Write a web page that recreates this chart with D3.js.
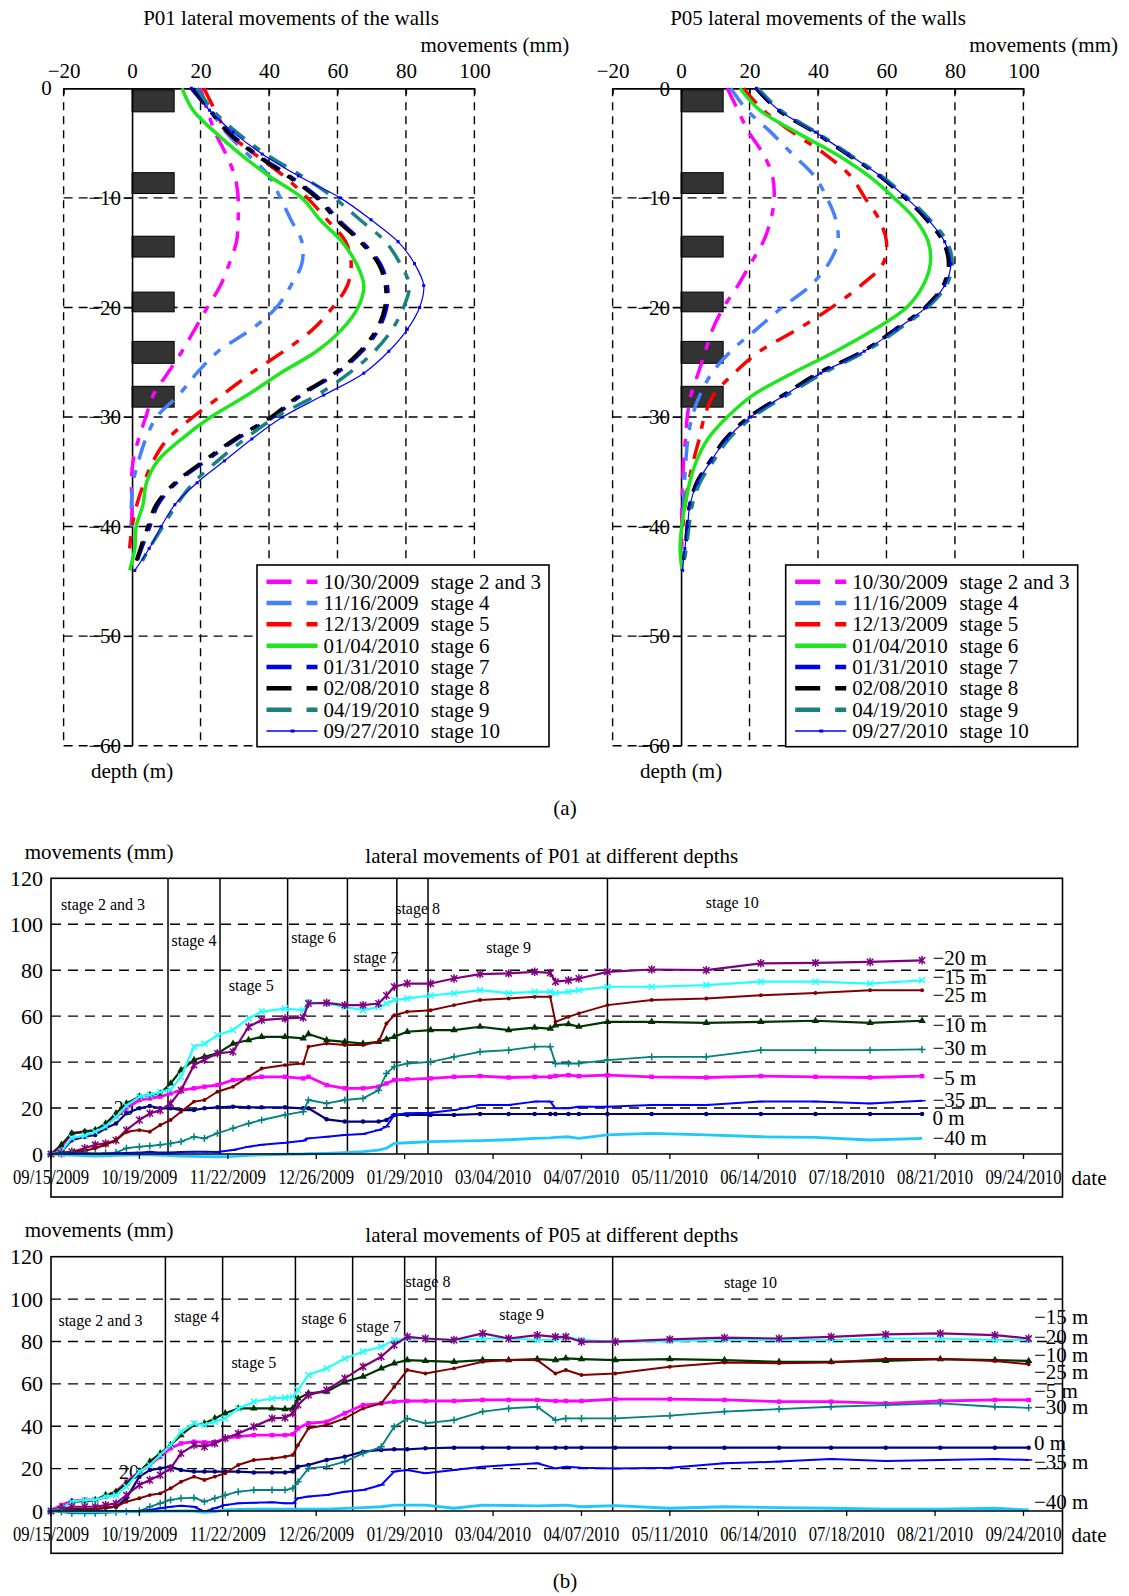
<!DOCTYPE html>
<html lang="en">
<head>
<meta charset="UTF-8">
<title>Lateral movements of the walls P01 / P05</title>
<script src="https://d3js.org/d3.v7.min.js"></script>
<style>
  body { margin: 0; background: #fff; }
  svg { display: block; font-family: "Liberation Serif", "Times New Roman", serif; }
  text { fill: #000; }
</style>
</head>
<body>
<svg id="fig" width="1129" height="1596"></svg>
<script>
// ---------------- data: (a) wall profiles ----------------
const profileDepths = [0,-2,-4,-6,-8,-10,-12,-14,-16,-18,-20,-22,-24,-26,-28,-30,-32,-34,-36,-38,-40,-42,-44];
const mmTicks = [-20, 0, 20, 40, 60, 80, 100];
const depthTicks = [0, -10, -20, -30, -40, -50, -60];
const strutTop = [-0.15, -7.7, -13.5, -18.6, -23.1, -27.2];
const strutBottom = [-2.15, -9.6, -15.4, -20.4, -25.1, -29.1];
const strutWidthMm = 12.3;

const legendDates = ["10/30/2009", "11/16/2009", "12/13/2009", "01/04/2010", "01/31/2010", "02/08/2010", "04/19/2010", "09/27/2010"];
const legendStages = ["stage 2 and 3", "stage 4", "stage 5", "stage 6", "stage 7", "stage 8", "stage 9", "stage 10"];

// P01 (mm at each depth)
const p01Stage23 = [20,22,24.2,27.4,30,31,31,30.5,28.4,25.8,22,18.3,14.6,10.4,6.2,4,1.9,0.3,-0.2,0,-0.2,null,null];
const p01Stage4  = [19,23,27.4,33.7,40,43.3,46.4,49.6,49.6,46.4,42.2,34.8,25.2,18.9,13.6,7.2,4,1.9,0.3,-0.2,-0.2,null,null];
const p01Stage5  = [21,24.2,27.9,35.8,44.3,51.2,57,62.4,64,62.9,58.6,52.8,44.3,34.8,26.3,17.8,10.4,6.2,3.5,1.4,0,-0.7,null];
const p01Stage6  = [14.6,17.8,24.2,31.6,40,49.6,54.9,61.3,65.5,67.7,66,61.3,53.9,43.3,33.7,23,14.5,7.5,4.2,3.2,1.2,0.8,-0.7];
const p01Stage7  = [17.8,23,28.4,36.3,46,54.5,60.3,67.2,72.5,74.6,74.4,72,67.2,59.8,49.5,41.2,30.6,21.6,13,7.6,5.2,2.8,0.5];
const p01Stage8  = [17.3,22.6,27.9,35.8,45.4,53.9,59.7,66.6,71.9,74,73.8,71.4,66.6,59.2,49,40.6,30,21,12.5,7,4.6,2.4,0.3];
const p01Stage9  = [18.9,23.6,30.5,39,49.6,59,66.6,74,78.3,81,79.3,76,70.8,63.4,54,42,33,25,18,13,9,5,1.5];
const p01Stage10 = [17.3,22.6,29.5,38,48.6,60.8,69.8,77.7,82.5,85.2,84,80.4,75,67.7,56,44,35,27,19,12.5,8.5,5,0.8];

// P05
const p05Stage23 = [13.5,16.6,19.8,24,26.7,27.2,26.2,24,20.3,16.6,12.4,9.2,7.1,5,2.9,1.8,1.3,0.7,0.5,0.2,0.2,0.2,null];
const p05Stage4  = [14.5,19.3,26.2,32.5,38.9,42.6,45.2,45.8,43.1,37.8,29.5,22,14.5,9,5.5,3.2,2,1.4,1,0.7,0.3,null,null];
const p05Stage5  = [18.2,24,32.5,42,49.5,53.7,57.9,60,59,52.5,44,34,23,15.5,9.5,6.8,5.3,3.6,2.2,1.2,0.5,null,null];
const p05Stage6  = [17.2,23,33.6,45.2,54.8,62.2,68.5,72.2,72.8,70.7,65.9,56.5,45.2,32.5,21,13.5,7.8,4.5,2.5,1.2,0.2,-0.3,0.3];
const p05Stage7  = [22,28.5,39,48.6,58,65.6,72,76.8,78.5,76.8,71.5,63,53,40.5,30,20,13,8.6,4.6,2.6,1.8,1.2,0.3];
const p05Stage8  = [21.9,28.3,38.9,48.4,57.9,65.4,71.7,76.5,78.1,76.5,71.2,62.5,53.2,40,29.8,19.8,12.9,8.5,4.5,2.5,1.8,1.3,0.2];
const p05Stage9  = [22.5,29,39.5,49,58.5,66.2,72.7,77.7,79.2,77.5,72,63.5,54,41.5,31,21,14,9.5,5.5,3.3,2.3,1.5,0.5];
const p05Stage10 = [22,28.6,39.2,48.8,58.2,65.8,72.2,77,78.8,77,71.6,62.8,53.5,40.8,30.3,20.3,13.3,8.8,4.8,2.6,1.9,1.1,0.4];

// ---------------- data: (b) time histories ----------------
const dateTicks = ["09/15/2009","10/19/2009","11/22/2009","12/26/2009","01/29/2010","03/04/2010",
                   "04/07/2010","05/11/2010","06/14/2010","07/18/2010","08/21/2010","09/24/2010"];
const valueTicks = [0, 20, 40, 60, 80, 100, 120];
const depthLabels = ["0 m", "−5 m", "−10 m", "−15 m", "−20 m", "−25 m", "−30 m", "−35 m", "−40 m"];

const p01Dates = ["09/15/2009","09/19/2009","09/23/2009","09/28/2009","10/02/2009","10/06/2009","10/10/2009","10/14/2009","10/19/2009","10/23/2009",
  "10/27/2009","10/31/2009","11/04/2009","11/09/2009","11/13/2009","11/18/2009","11/24/2009","11/30/2009","12/05/2009","12/14/2009",
  "12/21/2009","12/23/2009","12/30/2009","01/06/2010","01/13/2010","01/19/2010","01/22/2010","01/25/2010","01/30/2010","02/08/2010",
  "02/17/2010","02/27/2010","03/10/2010","03/20/2010","03/26/2010","03/28/2010","04/02/2010",
  "04/06/2010","04/17/2010","05/04/2010","05/25/2010","06/15/2010","07/06/2010","07/27/2010","08/16/2010"];
const p01D0  = [0,1,6,7.5,8.3,11.2,13.3,17.7,19.9,20.9, 19.9,19.9,19.1,19.1,19.9,20.3,20.6,20.3,20.3,20.3, 19.9,19.9,15.1,14.1,14.1,14.1,14.8,17,17,17, 17,17.4,17.4,17.4,17.4,17.4,17.4, 17.4,17.4,17.4,17.4,17.4,17.4,17.4,17.4];
const p01D5  = [0,3.2,9,9.7,10.4,12.6,16.2,19.9,23.5,24.2, 25,26.4,27.8,28.6,29.3,30,32.2,32.9,33.6,33.6, 32.9,33.6,30,28.6,28.6,29.3,30.7,32.2,32.5,32.9, 33.6,33.9,33.3,33.6,33.6,34,34.3, 33.9,34.3,33.6,33.3,33.9,33.6,33.3,33.9];
const p01D10 = [0,4,9,9.7,10.4,13.3,17.7,22,25,25.7, 26.4,30.7,36.5,40.9,42.3,43.8,48,49.6,51,51, 50.3,52.2,49.6,48.8,48.1,48.8,49.9,51,53.2,53.9, 53.9,55.4,53.9,55,54.6,56,56.5, 55.4,57.5,57.5,57.1,57.5,58,57.1,58];
const p01D15 = [0,1,7,8,9.7,12,16,21,25,25.7, 27,28,33.6,46.7,48,51.7,54,59,62,63.3, 62.6,66,65.5,64,62.6,64,65.5,67,67.7,69, 70,71.3,70,70.6,70.6,70,70.6, 71.3,72.8,72.8,73.5,75,75,74.2,75.6];
const p01D20 = [0,0.3,1,2.5,4,4.6,6,10.4,14.8,17.7, 19,22,27.8,38.7,41,43.8,44.5,55.4,58.3,59, 59.4,65.5,65.8,64.8,64.8,65.5,69,72.8,74.2,74.2, 76.4,78.3,78.6,79.3,78.8,75,75.6, 76.4,79.3,80.3,80,83,83.2,83.6,84.3];
const p01D25 = [0,0.6,1,1.4,2.5,4,6,9.7,10.4,9.7, 12.6,14.8,18.4,22.8,23.5,27.1,29.3,33.6,37.2,38.7, 39.4,46.7,48.1,47.4,47.4,48.8,56.8,60.4,61.9,62.6, 64.8,67,67.7,68.4,68.4,57.5,59.7, 61.2,64.8,67,67.7,69.1,70.1,71.3,71.3];
const p01D30 = [0,0.3,0.6,0.5,0.3,0.5,0.6,2.5,3.2,3.5, 4,4.6,5.4,7.5,6.8,9,11.2,13.3,14.8,17, 18.4,23.5,22,23.5,24.2,27.8,35,38,39.4,40.1, 42.3,44.5,45.2,46.7,46.7,39.4,39.4, 39.4,40.9,42.3,42.3,45.2,45.2,45.2,45.5];
const p01D35 = [0,0.2,0.3,0.2,0,0.1,0.3,0.4,0.6,1, 0.6,0.6,0.9,1,1,0.9,1.7,3.2,4,4.9, 5.8,6.8,7.5,8.3,8.7,10.4,11.9,17,17.7,18, 19.1,21.3,21.3,22.8,22.8,19.9,19.9, 20.6,20.6,21.3,21.3,22.8,22.8,22,23.2];
const p01D40 = [0,-0.3,-0.5,-0.7,-0.9,-0.8,-0.6,-0.5,-0.4,-0.4, -0.5,-0.7,-0.9,-1,-1.1,-1.2,-1,-0.6,-0.4,-0.1, 0,0.1,0.3,0.6,1,1.7,2.5,4.6,4.9,5.4, 5.6,5.8,6.2,6.8,7,7.2,7.5, 6.8,8.3,9,8.3,7.5,7.2,6.1,6.8];

const p05Dates = ["09/15/2009","09/19/2009","09/23/2009","09/28/2009","10/02/2009","10/06/2009","10/10/2009","10/14/2009","10/19/2009","10/23/2009",
  "10/27/2009","10/31/2009","11/04/2009","11/09/2009","11/13/2009","11/17/2009","11/21/2009","11/26/2009","12/02/2009","12/09/2009",
  "12/14/2009","12/17/2009","12/19/2009","12/23/2009","12/30/2009","01/06/2010","01/13/2010","01/20/2010","01/25/2010","01/30/2010",
  "02/06/2010","02/17/2010","02/28/2010","03/10/2010","03/21/2010","03/28/2010","04/01/2010",
  "04/07/2010","04/20/2010","05/11/2010","06/01/2010","06/22/2010","07/12/2010","08/02/2010","08/23/2010","09/13/2010","09/26/2010"];
const p05D0  = [0,0.5,0.9,0.9,0.9,1.5,2,6,16.2,19.3, 20.1,20.9,19.3,18.6,18.6,18.6,18.6,18.6,18.2,18.2, 18.2,18.6,20.9,21.7,24.1,25.6,28,28.8,29.1,29.1, 29.6,29.9,29.9,29.9,29.9,29.9,29.9, 29.9,29.9,29.9,29.9,29.9,29.9,29.9,29.9,29.9,29.9];
const p05D5  = [0,2.8,4.7,5.2,5.2,6.8,9.1,13.8,18.6,21.7, 25.6,29.6,31.9,32.7,32.4,32.4,34.3,35.1,35.8,35.8, 35.8,36.2,39,41.4,42.1,46.1,50,50.8,51.6,51.9, 51.9,51.9,52.4,52.4,52.4,51.9,51.9, 51.9,52.8,52.8,52.4,51.6,51.6,50.8,51.9,52.4,52.4];
const p05D10 = [0,1.6,4.4,4.7,5.2,7.5,9.1,13,18.6,23.3, 27.2,31.1,35.8,40.6,41.4,43.7,46.1,48.4,48.4,48.4, 48.1,48.4,53.1,55.5,56.3,61,63.4,67.3,69.7,71.2, 70.8,70.4,71.2,71.2,71.7,71.2,72, 71.7,71.2,71.7,71.2,70.4,70.4,70.8,71.7,71.2,70.8];
const p05D15 = [0,1.3,4.4,5.2,5.2,6.8,7.5,11.5,18.6,21.7, 26.4,31.1,37.4,41.4,40.6,42.1,43.7,48.4,51.6,53.1, 53.5,53.9,57.1,64.2,67.3,72,75.2,77.5,80.7,81.4, 81.4,80.7,81.4,81.4,80.7,80.7,82.2, 80.7,79.9,80.2,80.7,80.7,80.7,81.4,81.4,80.7,80.7];
const p05D20 = [0,0.9,2,2,2,2.8,3.6,7.5,12.3,14.6, 17,20.1,27.2,31.1,30.3,31.9,34.3,36.6,39.8,43.7, 44,46.1,50,54.7,57.1,62.6,68.1,72.8,78.3,82.2, 81.4,80.7,83.8,81.4,83,82.2,82.2, 79.9,79.9,81,81.8,81.4,82.2,83.3,83.8,83,81.4];
const p05D25 = [0,0.2,0.5,0.7,0.9,1.5,2,4.4,6,7.5, 8.3,10.7,13.8,16.2,14.6,16.2,17.8,21.7,24.1,24.8, 25.6,26.4,31.1,39,40.6,43.7,48.4,50.8,58.6,66.5, 64.9,67.3,70.4,71.2,71.2,64.9,66.5, 64.2,64.9,68.1,70.1,69.7,70.1,71.7,71.7,70.8,69.2];
const p05D30 = [0,-0.5,-1.1,-1.1,-1.1,-0.8,-0.6,-0.3,0,2, 3.6,5.2,6,6.3,4.4,6,7.5,9.1,9.9,9.9, 9.9,10.7,13.8,20.1,20.9,23.3,27.2,30.3,39.8,43.7, 41.4,42.9,46.9,48.4,49.2,42.9,43.7, 43.7,43.7,45,46.9,48.1,49.2,50,50.8,49.2,48.7];
const p05D35 = [0,0,0,0,0,0,0,0,0,0.5, 1.3,2,2.5,2,-0.3,1.3,2.8,3.6,3.9,4.1, 3.6,3.6,6,6.8,7.5,9.1,9.9,12.3,18.6,19.3, 17.8,19.3,20.9,21.7,22.5,20.1,20.9, 20.4,20.1,20.4,22.5,23.3,24.5,23.6,24.1,24.5,24.1];
const p05D40 = [0,-0.1,-0.2,-0.3,-0.3,-0.3,-0.3,-0.3,-0.3,-0.2, -0.1,0,0,0,-0.6,-0.3,0.5,0.7,0.9,0.9, 0.9,0.9,0.9,0.9,0.9,1.2,1.6,2,2.8,2.8, 2.8,1.3,2.8,2.6,2.4,2.6,2.8, 2,2.5,1.3,2,1.6,1.3,0.9,0.9,1.3,0.5];

const p01StageLines = ["10/30/2009","11/19/2009","12/15/2009","01/07/2010","01/26/2010","02/07/2010","04/17/2010"];
const p05StageLines = ["10/29/2009","11/20/2009","12/18/2009","01/09/2010","01/29/2010","02/10/2010","04/19/2010"];
const p01StageLabels = [["stage 2 and 3","10/05/2009",108.4],["stage 4","11/09/2009",93.1],["stage 5","12/01/2009",73.3],["stage 6","12/25/2009",94.3],
  ["stage 7","01/18/2010",85.4],["stage 8","02/03/2010",106.9],["stage 9","03/10/2010",90],["stage 10","06/04/2010",109.4]];
const p05StageLabels = [["stage 2 and 3","10/04/2009",89.7],["stage 4","11/10/2009",92],["stage 5","12/02/2009",70],["stage 6","12/29/2009",90.9],
  ["stage 7","01/19/2010",87],["stage 8","02/07/2010",108.5],["stage 9","03/15/2010",92.5],["stage 10","06/11/2010",107.9]];
// where the depth names sit on the right (value units)
const p01LabelValues = [15.5, 33.1, 56.2, 77.2, 85.2, 69.2, 46.1, 23.5, 6.8];
const p05LabelValues = [32.2, 56.7, 73.6, 91.7, 82, 65.4, 48.9, 23.2, 4.4];

// ---------------- styles ----------------
const stageStyles = [
  { color: "#ff00ff", dash: true,  width: 3.5 },
  { color: "#4480ff", dash: true,  width: 3.5 },
  { color: "#ff0000", dash: true,  width: 3.5 },
  { color: "#1ee61e", dash: false, width: 3.5 },
  { color: "#0000f0", dash: true,  width: 3.5 },
  { color: "#000000", dash: true,  width: 3.5 },
  { color: "#1a8080", dash: true,  width: 3.5 },
  { color: "#0000ff", dash: false, width: 1.2, marker: true }
];
const seriesStyles = [
  { color: "#000080", width: 2.2, marker: "circle" },
  { color: "#ff00ff", width: 2.8, marker: "square" },
  { color: "#003300", width: 2.2, marker: "triangle" },
  { color: "#22ffff", width: 2.2, marker: "x" },
  { color: "#800080", width: 2.2, marker: "star" },
  { color: "#800000", width: 2,   marker: "dot" },
  { color: "#008080", width: 1.8, marker: "plus" },
  { color: "#0000ff", width: 2,   marker: "dash" },
  { color: "#1ec8ff", width: 2.8, marker: null }
];
const markerPaths = {
  circle: d3.symbol(d3.symbolCircle, 16)(),
  square: d3.symbol(d3.symbolSquare, 20)(),
  triangle: d3.symbol(d3.symbolTriangle, 24)(),
  dot: d3.symbol(d3.symbolCircle, 12)(),
  x: "M-3,-3L3,3M-3,3L3,-3",
  star: "M-3.2,-3.2L3.2,3.2M-3.2,3.2L3.2,-3.2M0,-4.2L0,4.2",
  plus: "M-3.5,0L3.5,0M0,-3.5L0,3.5",
  dash: "M-3.5,0L3.5,0"
};
const filledMarkers = ["circle", "square", "triangle", "dot"];

const svg = d3.select("#fig");
const parseDate = d3.timeParse("%m/%d/%Y");

function addText(g, x, y, str, size, anchor) {
  return g.append("text").attr("x", x).attr("y", y).attr("font-size", size)
    .attr("text-anchor", anchor || "start").text(str);
}

// ---------------- (a) profile panels ----------------
function drawProfile(cfg) {
  const g = svg.append("g");
  const x = d3.scaleLinear().domain([-20, 100]).range(cfg.xRange);
  const y = d3.scaleLinear().domain([0, -60]).range([88.3, 745.7]);

  // dashed grid
  g.selectAll(".vg").data(mmTicks.filter(v => v !== 0)).join("line")
    .attr("x1", d => x(d)).attr("x2", d => x(d)).attr("y1", y(0)).attr("y2", y(-60))
    .attr("stroke", "#000").attr("stroke-width", 1.4).attr("stroke-dasharray", "8,6");
  g.selectAll(".hg").data(depthTicks.filter(v => v !== 0)).join("line")
    .attr("x1", x(-20)).attr("x2", x(100)).attr("y1", d => y(d)).attr("y2", d => y(d))
    .attr("stroke", "#000").attr("stroke-width", 1.4).attr("stroke-dasharray", "9,6");

  // struts
  g.selectAll(".strut").data(strutTop).join("rect")
    .attr("x", x(0)).attr("width", x(strutWidthMm) - x(0))
    .attr("y", d => y(d)).attr("height", (d, i) => y(strutBottom[i]) - y(d))
    .attr("fill", "#333").attr("stroke", "#000").attr("stroke-width", 1);

  // top axis, ticks pointing down into the plot
  const top = g.append("g").attr("transform", `translate(0,${y(0)})`)
    .call(d3.axisTop(x).tickValues(mmTicks).tickSizeInner(-6).tickSizeOuter(0).tickPadding(10));
  top.attr("font-family", null);
  top.select(".domain").attr("stroke-width", 1.8);
  top.selectAll(".tick line").attr("stroke-width", 1.4);
  top.selectAll("text").attr("font-size", 21);

  // depth axis at x = 0
  const ticks = cfg.zeroOnAxis ? depthTicks : depthTicks.filter(v => v !== 0);
  const left = g.append("g").attr("transform", `translate(${x(0)},0)`)
    .call(d3.axisLeft(y).tickValues(ticks).tickSizeInner(8).tickSizeOuter(0).tickPadding(3));
  left.attr("font-family", null);
  left.select(".domain").attr("stroke-width", 1.6);
  left.selectAll("text").attr("font-size", 21);
  if (!cfg.zeroOnAxis) addText(g, 46.4, y(0) + 7, "0", 21, "middle");

  // curves
  const line = d3.line()
    .defined(d => d[1] !== null)
    .x(d => x(d[1])).y(d => y(d[0]))
    .curve(d3.curveCatmullRom.alpha(0.5));
  cfg.profiles.forEach((vals, i) => {
    const st = stageStyles[i];
    const pts = profileDepths.map((dep, j) => [dep, vals[j]]);
    g.append("path").attr("d", line(pts)).attr("fill", "none")
      .attr("stroke", st.color).attr("stroke-width", st.width)
      .attr("stroke-dasharray", st.dash ? "20,11,8,11" : null);
    if (st.marker) {
      g.selectAll(null).data(pts.filter(p => p[1] !== null)).join("rect")
        .attr("x", d => x(d[1]) - 1.5).attr("y", d => y(d[0]) - 1.5)
        .attr("width", 3).attr("height", 3).attr("fill", st.color);
    }
  });

  // legend
  const lx = cfg.legendX, ly = 565, rowH = 21.33;
  g.append("rect").attr("x", lx).attr("y", ly).attr("width", 292).attr("height", 181.7)
    .attr("fill", "#fff").attr("stroke", "#000").attr("stroke-width", 1.6);
  legendDates.forEach((dt, i) => {
    const cy = ly + 16.7 + i * rowH, st = stageStyles[i];
    g.append("line").attr("x1", lx + 9.5).attr("x2", lx + 60.5).attr("y1", cy).attr("y2", cy)
      .attr("stroke", st.color).attr("stroke-width", st.marker ? 1.3 : 4.5)
      .attr("stroke-dasharray", st.dash ? "25,15,11" : null);
    if (st.marker) g.append("rect").attr("x", lx + 33.5).attr("y", cy - 1.5).attr("width", 4).attr("height", 3).attr("fill", st.color);
    addText(g, lx + 66.5, cy + 7, dt, 21);
    addText(g, lx + 173.7, cy + 7, legendStages[i], 21);
  });

  // titles
  addText(g, cfg.titleX, 25, cfg.title, 21, "middle");
  addText(g, cfg.unitsX, 52, "movements (mm)", 21);
  addText(g, x(0), 778, "depth (m)", 21, "middle");
}

drawProfile({
  xRange: [63.6, 474.4], legendX: 257, titleX: 291, unitsX: 420.5, zeroOnAxis: false,
  title: "P01 lateral movements of the walls",
  profiles: [p01Stage23, p01Stage4, p01Stage5, p01Stage6, p01Stage7, p01Stage8, p01Stage9, p01Stage10]
});
drawProfile({
  xRange: [612.6, 1023.4], legendX: 785.7, titleX: 818, unitsX: 969.3, zeroOnAxis: true,
  title: "P05 lateral movements of the walls",
  profiles: [p05Stage23, p05Stage4, p05Stage5, p05Stage6, p05Stage7, p05Stage8, p05Stage9, p05Stage10]
});
addText(svg, 565, 815, "(a)", 21, "middle");

// ---------------- (b) time histories ----------------
function drawTimeChart(c) {
  const g = svg.append("g");
  const x = d3.scaleTime().domain([parseDate("09/15/2009"), parseDate("10/09/2010")]).range([51, 1062.5]);
  const y = d3.scaleLinear().domain([0, 120]).range([c.yZero, c.yTop]);

  g.selectAll(".hg").data(valueTicks.slice(1, -1)).join("line")
    .attr("x1", x.range()[0]).attr("x2", x.range()[1]).attr("y1", d => y(d)).attr("y2", d => y(d))
    .attr("stroke", "#000").attr("stroke-width", 1.4).attr("stroke-dasharray", "10,7");

  g.selectAll(".yl").data(valueTicks).join("text")
    .attr("x", 43).attr("y", d => y(d) + 7.5).attr("text-anchor", "end").attr("font-size", 22).text(d => d);

  // stray "20" left by the original chart
  addText(g, x(parseDate(c.strayDate)), y(c.strayValue) + 7, "20", 20, "middle").attr("fill", "#222");

  // stage boundaries
  g.selectAll(".sl").data(c.stageLines).join("line")
    .attr("x1", d => x(parseDate(d))).attr("x2", d => x(parseDate(d)))
    .attr("y1", y(120)).attr("y2", y(0)).attr("stroke", "#000").attr("stroke-width", 1.5);
  c.stageLabels.forEach(s => addText(g, x(parseDate(s[1])), y(s[2]) + 5.5, s[0], 16, "middle"));

  // series
  const line = d3.line();
  c.series.forEach((vals, i) => {
    const st = seriesStyles[i];
    const pts = c.dates.map((d, j) => [x(parseDate(d)), y(vals[j])]);
    g.append("path").attr("d", line(pts)).attr("fill", "none")
      .attr("stroke", st.color).attr("stroke-width", st.width).attr("stroke-linejoin", "round");
    if (st.marker) {
      const filled = filledMarkers.includes(st.marker);
      g.selectAll(null).data(pts).join("path")
        .attr("transform", p => `translate(${p[0]},${p[1]})`)
        .attr("d", markerPaths[st.marker])
        .attr("fill", filled ? st.color : "none")
        .attr("stroke", filled ? "none" : st.color).attr("stroke-width", 1.5);
    }
  });

  // frame + axis
  g.append("rect").attr("x", x.range()[0]).attr("y", c.yTop)
    .attr("width", x.range()[1] - x.range()[0]).attr("height", c.yBottom - c.yTop)
    .attr("fill", "none").attr("stroke", "#000").attr("stroke-width", 1.6);
  g.append("line").attr("x1", x.range()[0]).attr("x2", x.range()[1]).attr("y1", y(0)).attr("y2", y(0))
    .attr("stroke", "#000").attr("stroke-width", 1.6);
  g.selectAll(".xt").data(dateTicks).join("line")
    .attr("x1", d => x(parseDate(d))).attr("x2", d => x(parseDate(d)))
    .attr("y1", y(0)).attr("y2", y(0) + 5).attr("stroke", "#000").attr("stroke-width", 1.3);
  g.selectAll(".xl").data(dateTicks).join("text")
    .attr("x", d => x(parseDate(d))).attr("y", y(0) + 30).attr("text-anchor", "middle")
    .attr("font-size", 20).attr("textLength", 76).attr("lengthAdjust", "spacingAndGlyphs").text(d => d);
  addText(g, 1071.5, y(0) + 31, "date", 21);

  // depth names
  depthLabels.forEach((lab, i) => addText(g, x(parseDate(c.labelDate)), y(c.labelValues[i]) + 7, lab, 21));

  addText(g, 24.7, c.yTop - 19.5, "movements (mm)", 21);
  addText(g, 365.3, c.yTop - 15, c.title, 21);
}

drawTimeChart({
  yTop: 878.3, yZero: 1154, yBottom: 1197,
  title: "lateral movements of P01 at different depths",
  dates: p01Dates, series: [p01D0, p01D5, p01D10, p01D15, p01D20, p01D25, p01D30, p01D35, p01D40],
  stageLines: p01StageLines, stageLabels: p01StageLabels,
  labelDate: "08/20/2010", labelValues: p01LabelValues,
  strayDate: "10/13/2009", strayValue: 20
});
drawTimeChart({
  yTop: 1256.7, yZero: 1511, yBottom: 1553.3,
  title: "lateral movements of P05 at different depths",
  dates: p05Dates, series: [p05D0, p05D5, p05D10, p05D15, p05D20, p05D25, p05D30, p05D35, p05D40],
  stageLines: p05StageLines, stageLabels: p05StageLabels,
  labelDate: "09/28/2010", labelValues: p05LabelValues,
  strayDate: "10/15/2009", strayValue: 18.4
});
addText(svg, 565, 1588, "(b)", 21, "middle");
</script>
</body>
</html>
